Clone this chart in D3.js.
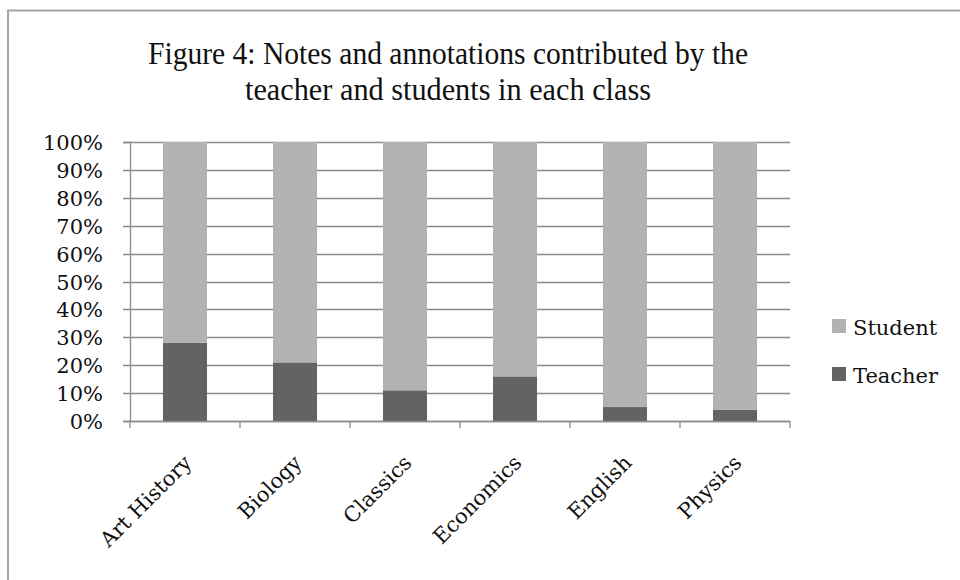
<!DOCTYPE html>
<html>
<head>
<meta charset="utf-8">
<script src="https://cdn.jsdelivr.net/npm/d3@7"></script>
<style>
  html, body { margin: 0; padding: 0; background: #fff; }
  svg { display: block; }
  text { font-family: "DejaVu Serif", "Liberation Serif", serif; fill: #111; }
</style>
</head>
<body>
<svg id="chart" width="960" height="580"></svg>
<script>
// Share of notes and annotations by contributor, per class (percent)
const categories = ["Art History", "Biology", "Classics", "Economics", "English", "Physics"];
const teacher = [28, 21, 11, 16, 5, 4];
const student = teacher.map(t => 100 - t);
const seriesNames = ["Teacher", "Student"];
const seriesColors = ["#636363", "#b2b2b2"];
const yTicks = [0, 10, 20, 30, 40, 50, 60, 70, 80, 90, 100];
const titleLines = ["Figure 4: Notes and annotations contributed by the", "teacher and students in each class"];

const svg = d3.select("#chart");

// outer frame
svg.append("rect")
  .attr("x", 8).attr("y", 10.5)
  .attr("width", 970).attr("height", 600)
  .attr("fill", "none").attr("stroke", "#a6a6a6").attr("stroke-width", 2);

const plot = { left: 130, right: 790, top: 142, bottom: 421 };

const x = d3.scaleBand()
  .domain(categories)
  .range([plot.left, plot.right])
  .paddingInner(0.6).paddingOuter(0.3);

const y = d3.scaleLinear().domain([0, 100]).range([plot.bottom, plot.top]);

// title: a tall, narrow serif setting
const titleWidths = [600, 406];
svg.append("g").selectAll("text").data(titleLines).join("text")
  .attr("x", 448)
  .attr("y", (d, i) => 64 + i * 36)
  .attr("text-anchor", "middle")
  .style("font-family", "'Liberation Serif', serif")
  .attr("font-size", 32)
  .attr("textLength", (d, i) => titleWidths[i])
  .attr("lengthAdjust", "spacingAndGlyphs")
  .text(d => d);

// horizontal gridlines
svg.append("g").selectAll("line").data(yTicks).join("line")
  .attr("x1", plot.left - 7).attr("x2", plot.right)
  .attr("y1", d => Math.round(y(d)) + 0.5).attr("y2", d => Math.round(y(d)) + 0.5)
  .attr("stroke", "#8c8c8c").attr("stroke-width", 1.3);

// stacked bars
const rows = categories.map((c, i) => ({ cat: c, Teacher: teacher[i], Student: student[i] }));
const stacked = d3.stack().keys(seriesNames)(rows);

svg.append("g").selectAll("g").data(stacked).join("g")
  .attr("fill", (d, i) => seriesColors[i])
  .selectAll("rect").data(d => d).join("rect")
  .attr("x", d => x(d.data.cat))
  .attr("width", x.bandwidth())
  .attr("y", d => y(d[1]))
  .attr("height", d => y(d[0]) - y(d[1]));

// y axis
const yAxis = d3.axisLeft(y)
  .tickValues(yTicks)
  .tickFormat(d => d + "%")
  .tickSize(7)
  .tickPadding(20);
const gy = svg.append("g").attr("transform", `translate(${plot.left},0)`).call(yAxis);
gy.select(".domain").attr("stroke", "#8c8c8c").attr("stroke-width", 1.3);
gy.selectAll(".tick line").remove();
gy.selectAll("text")
  .attr("font-family", null)
  .attr("font-size", 21).attr("fill", "#111")
  .attr("dy", "0.36em");

// x axis with boundary ticks between categories
const step = x.step();
const boundaries = d3.range(categories.length + 1).map(i => plot.left + i * step);
const gx = svg.append("g");
gx.append("line")
  .attr("x1", plot.left).attr("x2", plot.right)
  .attr("y1", plot.bottom + 0.5).attr("y2", plot.bottom + 0.5)
  .attr("stroke", "#8c8c8c").attr("stroke-width", 1.3);
gx.selectAll("line.tk").data(boundaries).join("line")
  .attr("class", "tk")
  .attr("x1", d => d).attr("x2", d => d)
  .attr("y1", plot.bottom).attr("y2", plot.bottom + 7)
  .attr("stroke", "#8c8c8c").attr("stroke-width", 1.3);
gx.selectAll("text").data(categories).join("text")
  .attr("text-anchor", "end")
  .attr("font-size", 21)
  .attr("transform", d => `translate(${x(d) + x.bandwidth() / 2 + 8},${plot.bottom + 43}) rotate(-45)`)
  .text(d => d);

// legend (Student listed first)
const legendItems = [
  { name: "Student", color: seriesColors[1] },
  { name: "Teacher", color: seriesColors[0] }
];
const lg = svg.append("g").selectAll("g").data(legendItems).join("g")
  .attr("transform", (d, i) => `translate(832,${319 + i * 48})`);
lg.append("rect").attr("width", 14).attr("height", 14).attr("fill", d => d.color);
lg.append("text").attr("x", 21).attr("y", 16).attr("font-size", 21).text(d => d.name);
</script>
</body>
</html>
